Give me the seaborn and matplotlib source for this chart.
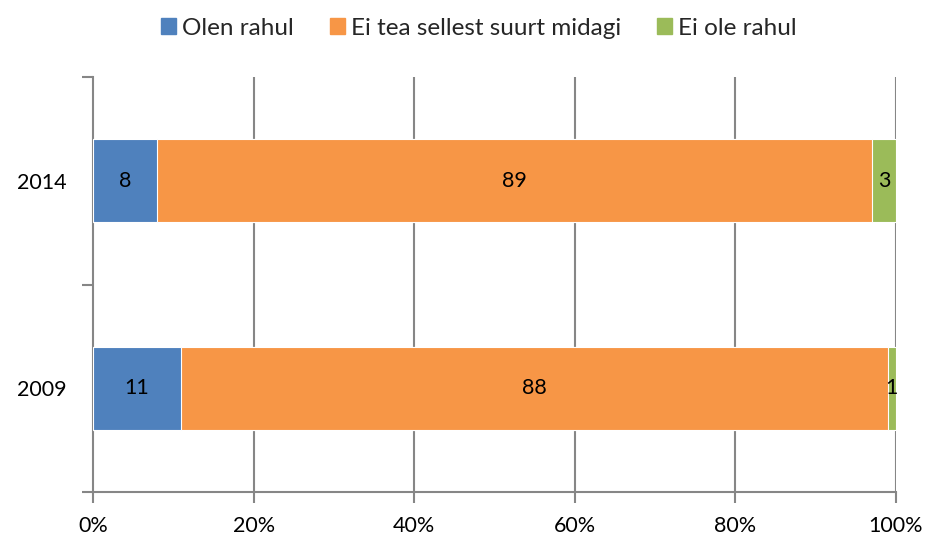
import matplotlib
matplotlib.use("Agg")
import matplotlib.pyplot as plt
import seaborn as sns
import pandas as pd
import numpy as np

years = ["2014", "2009"]
series = ["Olen rahul", "Ei tea sellest suurt midagi", "Ei ole rahul"]
olen_rahul = [8, 11]
ei_tea = [89, 88]
ei_ole = [3, 1]
colors = ["#4F81BD", "#F79646", "#9BBB59"]
x_ticks = [0, 20, 40, 60, 80, 100]
x_tick_labels = ["0%", "20%", "40%", "60%", "80%", "100%"]

sns.set_theme(style="white")
plt.rcParams["font.family"] = ["Lato", "DejaVu Sans"]

values = np.array([olen_rahul, ei_tea, ei_ole], dtype=float)
cum = np.cumsum(values, axis=0)

fig = plt.figure(figsize=(9.3, 5.37), dpi=100)
ax = fig.add_axes([0.1, 0.0838, 0.8634, 0.7728])

# stacked bars: draw cumulative totals from the outermost segment inward
for i in reversed(range(len(series))):
    df = pd.DataFrame({"year": years, "value": cum[i]})
    sns.barplot(data=df, x="value", y="year", order=years, color=colors[i],
                width=0.4, saturation=1, edgecolor="white", linewidth=0.8,
                ax=ax, zorder=3)

# value labels in the middle of each segment
fs = 15.5
for i in range(len(series)):
    start = cum[i] - values[i]
    for j in range(len(years)):
        ax.text(start[j] + values[i][j] / 2, j, f"{int(values[i][j])}",
                ha="center", va="center", fontsize=fs, color="black", zorder=5)

ax.set_xlim(0, 100)
ax.set_ylim(1.5, -0.5)
ax.set_xlabel("")
ax.set_ylabel("")

grid_color = "#868686"
ax.set_xticks(x_ticks)
ax.set_xticklabels(x_tick_labels)
for xv in x_ticks[1:]:
    ax.axvline(xv, color=grid_color, lw=1.5, zorder=1)

ax.set_yticks([0, 1])
ax.set_yticklabels(years)
ax.set_yticks([-0.5, 0.5, 1.5], minor=True)
ax.tick_params(axis="y", which="major", length=0, pad=19, labelsize=fs, colors="black")
ax.tick_params(axis="y", which="minor", length=8, width=1.5, color=grid_color, left=True)
ax.tick_params(axis="x", which="major", length=8, width=1.5, color=grid_color,
               bottom=True, pad=9, labelsize=fs, labelcolor="black")

for side in ["top", "right"]:
    ax.spines[side].set_visible(False)
for side in ["left", "bottom"]:
    ax.spines[side].set_color(grid_color)
    ax.spines[side].set_linewidth(1.5)

if ax.get_legend() is not None:
    ax.get_legend().remove()

handles = [plt.Rectangle((0, 0), 1, 1, color=c) for c in colors]
fig.legend(handles, series, loc="upper center", bbox_to_anchor=(0.515, 1.008),
           ncol=3, frameon=False, fontsize=17.5, handlelength=0.6,
           handleheight=0.6, handletextpad=0.25, columnspacing=1.5)

fig.savefig("out.png", dpi=100)
